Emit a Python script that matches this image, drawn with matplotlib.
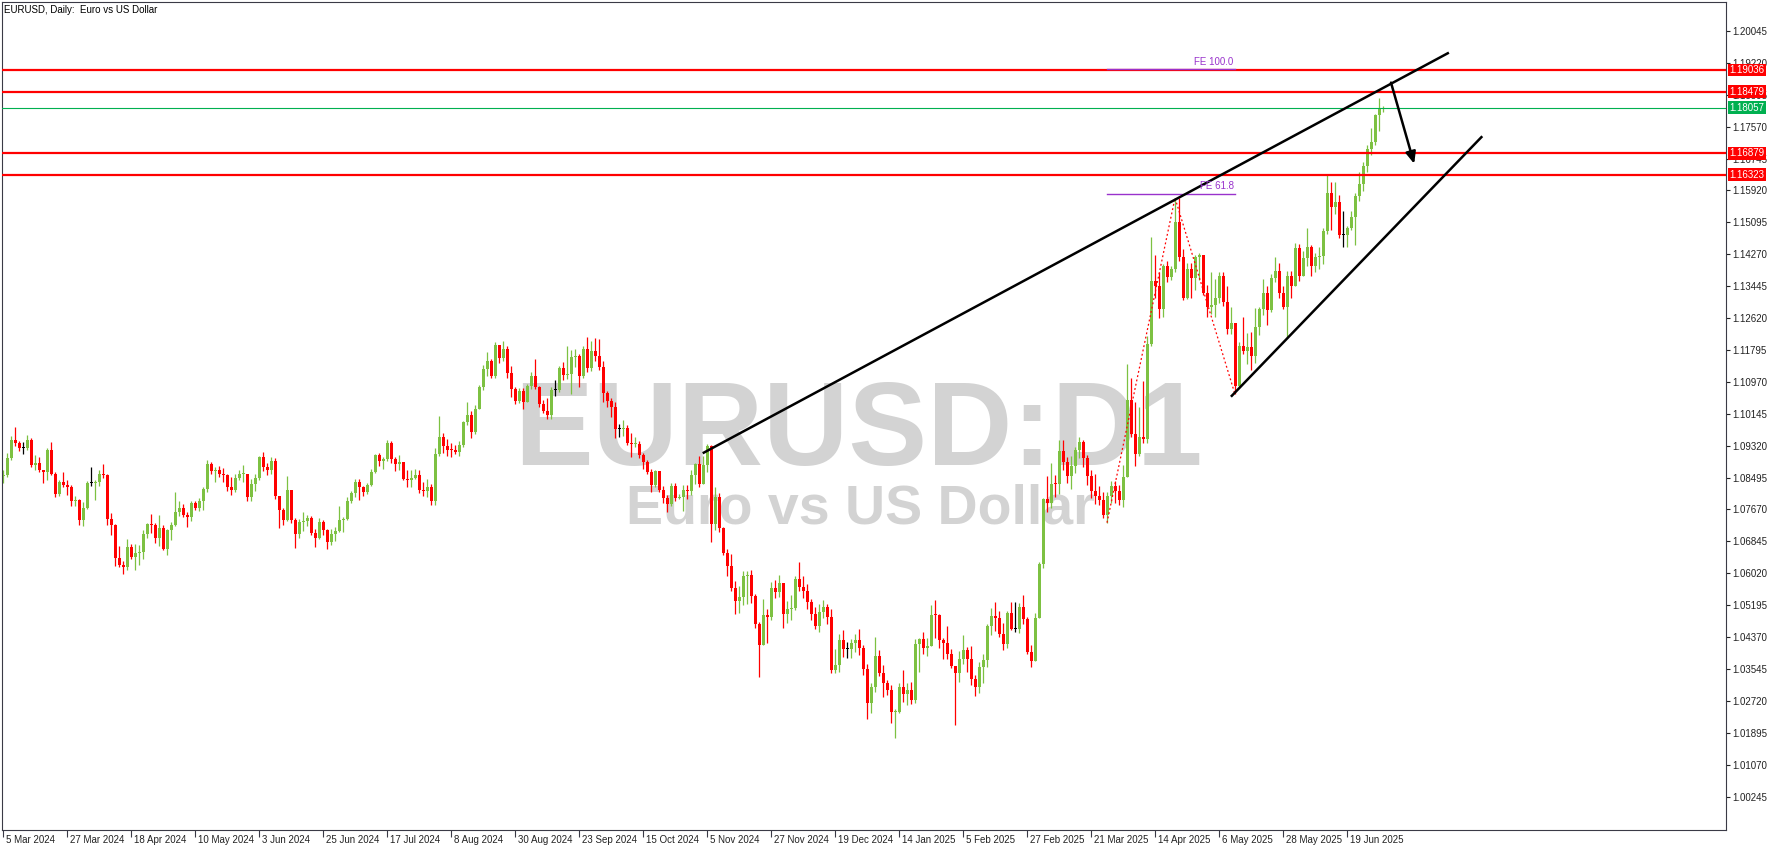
import matplotlib
matplotlib.use("Agg")
import matplotlib.pyplot as plt
import numpy as np

plt.rcParams["font.family"] = ["Liberation Sans", "DejaVu Sans"]

# ---- daily EURUSD bars (open of each bar = previous close) ----
first_open = 1.0853
close = [
    1.0855, 1.0900, 1.0947, 1.0938, 1.0927, 1.0927, 1.0947, 1.0882, 1.0888, 1.0868,
    1.0865, 1.0922, 1.0860, 1.0808, 1.0838, 1.0830, 1.0826, 1.0790, 1.0792, 1.0741,
    1.0770, 1.0836, 1.0836, 1.0838, 1.0860, 1.0857, 1.0742, 1.0727, 1.0642, 1.0624,
    1.0617, 1.0671, 1.0643, 1.0655, 1.0656, 1.0703, 1.0730, 1.0727, 1.0694, 1.0718,
    1.0665, 1.0713, 1.0726, 1.0761, 1.0770, 1.0753, 1.0748, 1.0783, 1.0771, 1.0790,
    1.0820, 1.0884, 1.0867, 1.0870, 1.0858, 1.0855, 1.0824, 1.0818, 1.0848, 1.0858,
    1.0859, 1.0800, 1.0832, 1.0848, 1.0903, 1.0878, 1.0868, 1.0893, 1.0801, 1.0765,
    1.0740, 1.0817, 1.0740, 1.0704, 1.0734, 1.0738, 1.0746, 1.0705, 1.0692, 1.0734,
    1.0715, 1.0682, 1.0703, 1.0712, 1.0740, 1.0742, 1.0790, 1.0810, 1.0839, 1.0826,
    1.0813, 1.0830, 1.0865, 1.0907, 1.0893, 1.0898, 1.0939, 1.0897, 1.0884, 1.0890,
    1.0845, 1.0842, 1.0849, 1.0857, 1.0818, 1.0816, 1.0825, 1.0790, 1.0910, 1.0955,
    1.0931, 1.0922, 1.0920, 1.0916, 1.0933, 1.0992, 1.1012, 1.0967, 1.1027, 1.1085,
    1.1130, 1.1152, 1.1112, 1.1192, 1.1160, 1.1183, 1.1120, 1.1078, 1.1048, 1.1073,
    1.1045, 1.1086, 1.1111, 1.1083, 1.1039, 1.1021, 1.1012, 1.1075, 1.1075, 1.1132,
    1.1115, 1.1117, 1.1162, 1.1164, 1.1112, 1.1181, 1.1133, 1.1177, 1.1163, 1.1135,
    1.1068, 1.1047, 1.1031, 1.0975, 1.0975, 1.0977, 1.0940, 1.0936, 1.0937, 1.0908,
    1.0891, 1.0865, 1.0830, 1.0866, 1.0817, 1.0796, 1.0782, 1.0827, 1.0797, 1.0800,
    1.0817, 1.0816, 1.0856, 1.0884, 1.0833, 1.0882, 1.0930, 1.0729, 1.0799, 1.0719,
    1.0654, 1.0622, 1.0564, 1.0530, 1.0540, 1.0596, 1.0597, 1.0543, 1.0472, 1.0417,
    1.0495, 1.0488, 1.0565, 1.0553, 1.0577, 1.0497, 1.0509, 1.0511, 1.0586, 1.0567,
    1.0555, 1.0527, 1.0497, 1.0466, 1.0502, 1.0514, 1.0490, 1.0353, 1.0364, 1.0430,
    1.0406, 1.0406, 1.0422, 1.0430, 1.0409, 1.0354, 1.0266, 1.0307, 1.0389, 1.0345,
    1.0318, 1.0300, 1.0243, 1.0244, 1.0308, 1.0290, 1.0300, 1.0274, 1.0418, 1.0431,
    1.0410, 1.0413, 1.0495, 1.0493, 1.0430, 1.0421, 1.0392, 1.0362, 1.0345, 1.0380,
    1.0403, 1.0381, 1.0328, 1.0307, 1.0360, 1.0379, 1.0465, 1.0492, 1.0486, 1.0446,
    1.0420, 1.0500, 1.0459, 1.0459, 1.0514, 1.0484, 1.0398, 1.0375, 1.0487, 1.0626,
    1.0793, 1.0785, 1.0833, 1.0832, 1.0919, 1.0890, 1.0854, 1.0880, 1.0922, 1.0942,
    1.0899, 1.0853, 1.0816, 1.0801, 1.0791, 1.0753, 1.0801, 1.0828, 1.0815, 1.0792,
    1.0852, 1.1050, 1.0961, 1.0910, 1.0955, 1.0950, 1.1195, 1.1357, 1.1346, 1.1285,
    1.1398, 1.1367, 1.1390, 1.1511, 1.1420, 1.1313, 1.1390, 1.1365, 1.1420, 1.1425,
    1.1327, 1.1290, 1.1297, 1.1314, 1.1370, 1.1303, 1.1234, 1.1250, 1.1086, 1.1190,
    1.1176, 1.1187, 1.1164, 1.1240, 1.1285, 1.1327, 1.1283, 1.1365, 1.1385, 1.1326,
    1.1290, 1.1370, 1.1345, 1.1444, 1.1371, 1.1418, 1.1445, 1.1396, 1.1420, 1.1423,
    1.1487, 1.1585, 1.1550, 1.1563, 1.1478, 1.1478, 1.1496, 1.1523, 1.1578, 1.1608,
    1.1655, 1.1700, 1.1718, 1.1787, 1.1803, 1.1806,
]
high = [
    1.0868, 1.0913, 1.0956, 1.0981, 1.0945, 1.0942, 1.0960, 1.0953, 1.0907, 1.0903,
    1.0868, 1.0926, 1.0942, 1.0863, 1.0844, 1.0863, 1.0843, 1.0830, 1.0802, 1.0793,
    1.0786, 1.0841, 1.0877, 1.0843, 1.0868, 1.0885, 1.0860, 1.0758, 1.0730, 1.0672,
    1.0634, 1.0690, 1.0677, 1.0678, 1.0674, 1.0713, 1.0733, 1.0755, 1.0733, 1.0753,
    1.0728, 1.0716, 1.0734, 1.0812, 1.0790, 1.0780, 1.0760, 1.0790, 1.0790, 1.0798,
    1.0826, 1.0895, 1.0889, 1.0878, 1.0880, 1.0875, 1.0858, 1.0852, 1.0858, 1.0869,
    1.0882, 1.0860, 1.0845, 1.0860, 1.0905, 1.0916, 1.0888, 1.0902, 1.0900, 1.0783,
    1.0771, 1.0853, 1.0818, 1.0744, 1.0742, 1.0761, 1.0752, 1.0749, 1.0716, 1.0745,
    1.0739, 1.0716, 1.0716, 1.0721, 1.0776, 1.0748, 1.0799, 1.0816, 1.0845, 1.0845,
    1.0827, 1.0835, 1.0871, 1.0910, 1.0912, 1.0904, 1.0948, 1.0945, 1.0902, 1.0907,
    1.0891, 1.0869, 1.0869, 1.0871, 1.0869, 1.0838, 1.0847, 1.0832, 1.0926, 1.1009,
    1.0966, 1.0949, 1.0940, 1.0934, 1.0944, 1.0996, 1.1046, 1.1023, 1.1037, 1.1090,
    1.1141, 1.1174, 1.1155, 1.1201, 1.1192, 1.1202, 1.1189, 1.1138, 1.1085, 1.1081,
    1.1081, 1.1091, 1.1122, 1.1155, 1.1087, 1.1049, 1.1055, 1.1083, 1.1101, 1.1139,
    1.1148, 1.1189, 1.1180, 1.1183, 1.1168, 1.1190, 1.1214, 1.1202, 1.1210, 1.1209,
    1.1151, 1.1074, 1.1055, 1.1045, 1.0987, 1.0998, 1.0985, 1.0966, 1.0955, 1.0943,
    1.0914, 1.0895, 1.0872, 1.0869, 1.0864, 1.0827, 1.0805, 1.0836, 1.0836, 1.0806,
    1.0830, 1.0830, 1.0870, 1.0888, 1.0905, 1.0905, 1.0937, 1.0935, 1.0826, 1.0809,
    1.0723, 1.0666, 1.0653, 1.0581, 1.0568, 1.0609, 1.0609, 1.0610, 1.0548, 1.0475,
    1.0535, 1.0509, 1.0580, 1.0584, 1.0597, 1.0569, 1.0530, 1.0545, 1.0595, 1.0630,
    1.0594, 1.0574, 1.0536, 1.0515, 1.0523, 1.0534, 1.0523, 1.0510, 1.0407, 1.0444,
    1.0456, 1.0424, 1.0431, 1.0446, 1.0459, 1.0417, 1.0367, 1.0318, 1.0437, 1.0403,
    1.0364, 1.0325, 1.0314, 1.0250, 1.0318, 1.0353, 1.0319, 1.0320, 1.0433, 1.0434,
    1.0449, 1.0435, 1.0521, 1.0533, 1.0497, 1.0434, 1.0466, 1.0406, 1.0355, 1.0400,
    1.0443, 1.0411, 1.0415, 1.0340, 1.0373, 1.0392, 1.0470, 1.0513, 1.0528, 1.0505,
    1.0473, 1.0505, 1.0528, 1.0528, 1.0524, 1.0546, 1.0490, 1.0417, 1.0500, 1.0630,
    1.0796, 1.0854, 1.0888, 1.0855, 1.0947, 1.0946, 1.0903, 1.0906, 1.0928, 1.0955,
    1.0946, 1.0908, 1.0868, 1.0859, 1.0828, 1.0811, 1.0813, 1.0840, 1.0840, 1.0830,
    1.0883, 1.1144, 1.1107, 1.1046, 1.1031, 1.1100, 1.1215, 1.1473, 1.1425, 1.1380,
    1.1403, 1.1410, 1.1396, 1.1573, 1.1572, 1.1440, 1.1405, 1.1405, 1.1426, 1.1430,
    1.1424, 1.1347, 1.1382, 1.1362, 1.1380, 1.1380, 1.1345, 1.1290, 1.1250, 1.1200,
    1.1265, 1.1223, 1.1225, 1.1288, 1.1290, 1.1363, 1.1345, 1.1375, 1.1420, 1.1405,
    1.1345, 1.1385, 1.1385, 1.1455, 1.1454, 1.1435, 1.1495, 1.1450, 1.1430, 1.1447,
    1.1495, 1.1631, 1.1614, 1.1615, 1.1580, 1.1540, 1.1500, 1.1540, 1.1585, 1.1640,
    1.1665, 1.1710, 1.1753, 1.1790, 1.1830, 1.1810,
]
low = [
    1.0835, 1.0850, 1.0895, 1.0930, 1.0919, 1.0910, 1.0922, 1.0877, 1.0870, 1.0864,
    1.0836, 1.0844, 1.0855, 1.0800, 1.0802, 1.0825, 1.0805, 1.0775, 1.0776, 1.0726,
    1.0725, 1.0767, 1.0827, 1.0792, 1.0829, 1.0848, 1.0727, 1.0700, 1.0622, 1.0617,
    1.0601, 1.0610, 1.0640, 1.0610, 1.0624, 1.0640, 1.0693, 1.0705, 1.0680, 1.0673,
    1.0663, 1.0650, 1.0689, 1.0724, 1.0750, 1.0747, 1.0723, 1.0738, 1.0766, 1.0764,
    1.0765, 1.0813, 1.0859, 1.0838, 1.0851, 1.0838, 1.0816, 1.0805, 1.0812, 1.0843,
    1.0838, 1.0789, 1.0790, 1.0814, 1.0842, 1.0866, 1.0855, 1.0860, 1.0795, 1.0719,
    1.0726, 1.0737, 1.0731, 1.0668, 1.0694, 1.0712, 1.0725, 1.0700, 1.0671, 1.0691,
    1.0700, 1.0666, 1.0676, 1.0685, 1.0710, 1.0709, 1.0739, 1.0784, 1.0800, 1.0792,
    1.0803, 1.0807, 1.0827, 1.0862, 1.0880, 1.0873, 1.0893, 1.0887, 1.0867, 1.0870,
    1.0842, 1.0826, 1.0825, 1.0845, 1.0810, 1.0802, 1.0800, 1.0778, 1.0778, 1.0906,
    1.0912, 1.0905, 1.0902, 1.0910, 1.0905, 1.0929, 1.0985, 1.0951, 1.0962, 1.1026,
    1.1075, 1.1112, 1.1106, 1.1106, 1.1145, 1.1150, 1.1108, 1.1058, 1.1039, 1.1043,
    1.1026, 1.1044, 1.1078, 1.1078, 1.1032, 1.1016, 1.1001, 1.1002, 1.1060, 1.1070,
    1.1102, 1.1105, 1.1066, 1.1136, 1.1083, 1.1107, 1.1122, 1.1126, 1.1150, 1.1128,
    1.1045, 1.1032, 1.1006, 1.0951, 1.0955, 1.0956, 1.0935, 1.0904, 1.0928, 1.0901,
    1.0872, 1.0858, 1.0811, 1.0824, 1.0812, 1.0785, 1.0761, 1.0775, 1.0790, 1.0793,
    1.0762, 1.0793, 1.0804, 1.0834, 1.0826, 1.0864, 1.0864, 1.0682, 1.0713, 1.0708,
    1.0650, 1.0594, 1.0556, 1.0496, 1.0500, 1.0520, 1.0522, 1.0525, 1.0460, 1.0335,
    1.0420, 1.0423, 1.0480, 1.0537, 1.0540, 1.0461, 1.0474, 1.0480, 1.0507, 1.0557,
    1.0539, 1.0510, 1.0481, 1.0458, 1.0451, 1.0487, 1.0470, 1.0343, 1.0343, 1.0346,
    1.0385, 1.0384, 1.0383, 1.0398, 1.0390, 1.0340, 1.0226, 1.0240, 1.0296, 1.0336,
    1.0283, 1.0286, 1.0214, 1.0177, 1.0240, 1.0270, 1.0262, 1.0265, 1.0266, 1.0346,
    1.0392, 1.0388, 1.0413, 1.0434, 1.0410, 1.0380, 1.0381, 1.0356, 1.0210, 1.0320,
    1.0367, 1.0348, 1.0313, 1.0285, 1.0292, 1.0318, 1.0360, 1.0443, 1.0453, 1.0436,
    1.0403, 1.0410, 1.0455, 1.0450, 1.0448, 1.0470, 1.0392, 1.0359, 1.0380, 1.0486,
    1.0615, 1.0760, 1.0770, 1.0800, 1.0807, 1.0870, 1.0835, 1.0821, 1.0861, 1.0900,
    1.0877, 1.0830, 1.0797, 1.0780, 1.0778, 1.0745, 1.0733, 1.0784, 1.0784, 1.0778,
    1.0774, 1.0850, 1.0954, 1.0880, 1.0905, 1.0940, 1.0940, 1.1190, 1.1313, 1.1263,
    1.1265, 1.1355, 1.1360, 1.1380, 1.1410, 1.1309, 1.1312, 1.1315, 1.1335, 1.1360,
    1.1323, 1.1265, 1.1273, 1.1264, 1.1300, 1.1294, 1.1220, 1.1220, 1.1065, 1.1085,
    1.1170, 1.1142, 1.1128, 1.1145, 1.1218, 1.1270, 1.1245, 1.1277, 1.1355, 1.1315,
    1.1285, 1.1210, 1.1315, 1.1355, 1.1357, 1.1370, 1.1398, 1.1372, 1.1380, 1.1390,
    1.1402, 1.1480, 1.1490, 1.1530, 1.1470, 1.1445, 1.1445, 1.1490, 1.1452, 1.1565,
    1.1590, 1.1640, 1.1685, 1.1710, 1.1745, 1.1795,
]

# ---- axis labels ----
date_ticks = [0, 16, 32, 48, 64, 80, 96, 112, 128, 144, 160, 176, 192, 208,
              224, 240, 256, 272, 288, 304, 320, 336]
date_labels = ["5 Mar 2024", "27 Mar 2024", "18 Apr 2024", "10 May 2024", "3 Jun 2024",
               "25 Jun 2024", "17 Jul 2024", "8 Aug 2024", "30 Aug 2024", "23 Sep 2024",
               "15 Oct 2024", "5 Nov 2024", "27 Nov 2024", "19 Dec 2024", "14 Jan 2025",
               "5 Feb 2025", "27 Feb 2025", "21 Mar 2025", "14 Apr 2025", "6 May 2025",
               "28 May 2025", "19 Jun 2025"]
price_labels = ["1.00245", "1.01070", "1.01895", "1.02720", "1.03545", "1.04370",
                "1.05195", "1.06020", "1.06845", "1.07670", "1.08495", "1.09320",
                "1.10145", "1.10970", "1.11795", "1.12620", "1.13445", "1.14270",
                "1.15095", "1.15920", "1.16745", "1.17570", "1.18395", "1.19220",
                "1.20045"]

# ---- drawings ----
levels = [1.19036, 1.18479, 1.16879, 1.16323]
bid = 1.18057
upper_x, upper_y = [175.2, 361.2], [1.0914, 1.1947]
lower_x, lower_y = [307.2, 369.6], [1.1061, 1.1730]
arrow_from = (347.0, 1.1871)
arrow_to = (352.8, 1.1661)
fe_x = [276, 293, 308]
fe_y = [1.0733, 1.1573, 1.1065]
fe_ratios = [61.8, 100.0]

bull = "#7dc142"
bear = "#ff0000"
purple = "#9932cc"
axis_col = "#3a3a46"

fig = plt.figure(figsize=(17.79, 8.51), dpi=100)
ax = fig.add_axes([2 / 1779, 21 / 851, 1724 / 1779, 828 / 851])
ax.set_xlim(-0.25, 430.75)
ax.set_ylim(0.99381, 1.20795)

# watermark
ax.text(0.4965, 0.4408, "EURUSD:D1", transform=ax.transAxes, ha="center",
        va="baseline", fontsize=85, fontweight="bold", color="#d3d3d3", zorder=0)
ax.text(0.4977, 0.3696, "Euro vs US Dollar", transform=ax.transAxes, ha="center",
        va="baseline", fontsize=40, fontweight="bold", color="#d3d3d3", zorder=0)

# candles
c = np.array(close)
o = np.r_[first_open, c[:-1]]
h = np.maximum(np.array(high), np.maximum(o, c))
l = np.minimum(np.array(low), np.minimum(o, c))
idx = np.arange(len(c))
cols = np.where(c > o, bull, np.where(c < o, bear, "black"))
ax.vlines(idx, l, h, colors=cols, lw=0.9, zorder=2)
ax.bar(idx, np.maximum(np.abs(c - o), 0.00026), bottom=np.minimum(o, c), width=0.75,
       color=cols, linewidth=0, zorder=2)

# horizontal levels and bid line
for v in levels:
    ax.axhline(v, color="#ff0000", lw=1.6, zorder=3)
ax.axhline(bid, color="#00b050", lw=0.8, zorder=3)

# trend channel and arrow
ax.plot(upper_x, upper_y, color="black", lw=1.8, zorder=4)
ax.plot(lower_x, lower_y, color="black", lw=1.8, zorder=4)
ax.annotate("", xy=arrow_to, xytext=arrow_from, zorder=4,
            arrowprops=dict(arrowstyle="-|>,head_length=0.7,head_width=0.3",
                            color="black", lw=1.8, shrinkA=0, shrinkB=0))

# fibonacci expansion
ax.plot(fe_x, fe_y, color="red", lw=0.9, ls=(0, (1.5, 2.0)), zorder=3)
for r in fe_ratios:
    lv = fe_y[2] + r / 100 * (fe_y[1] - fe_y[0])
    ax.plot([fe_x[0], fe_x[2]], [lv, lv], color=purple, lw=1.0, zorder=3)
    ax.annotate(f"FE {r:.1f}", xy=(fe_x[2], lv), xytext=(-1, 1.5),
                textcoords="offset points", ha="right", va="bottom",
                color=purple, fontsize=7, zorder=5)

# axes styling
for s in ax.spines.values():
    s.set_color(axis_col)
    s.set_linewidth(0.8)
ax.yaxis.tick_right()
ax.set_yticks([float(p) for p in price_labels])
ax.set_yticklabels(price_labels)
ax.tick_params(axis="y", direction="out", length=3, width=0.8, labelsize=7,
               pad=1.5, colors="#222222")
ax.set_xticks(date_ticks)
ax.set_xticklabels([])
ax.tick_params(axis="x", direction="out", length=5, width=0.8, colors=axis_col)
for pos, lab in zip(date_ticks, date_labels):
    ax.annotate(lab, xy=(pos, 0), xycoords=("data", "axes fraction"),
                xytext=(2, -7.5), textcoords="offset points", ha="left",
                va="center", fontsize=7, color="#222222", annotation_clip=False)

# price tags on the axis
for v, col in [(levels[0], "#ff0000"), (levels[1], "#ff0000"), (bid, "#00b050"),
               (levels[2], "#ff0000"), (levels[3], "#ff0000")]:
    ax.annotate(f"{v:.5f}", xy=(1, v), xycoords=("axes fraction", "data"),
                xytext=(2.6, 0), textcoords="offset points", ha="left", va="center",
                color="white", fontsize=7, annotation_clip=False, zorder=6,
                bbox=dict(boxstyle="square,pad=0.15", fc=col, ec="none"))

fig.text(4 / 1779, 1 - 13 / 851, "EURUSD, Daily:  Euro vs US Dollar", fontsize=7,
         va="baseline", ha="left", color="black")

fig.savefig("out.png", dpi=100)
